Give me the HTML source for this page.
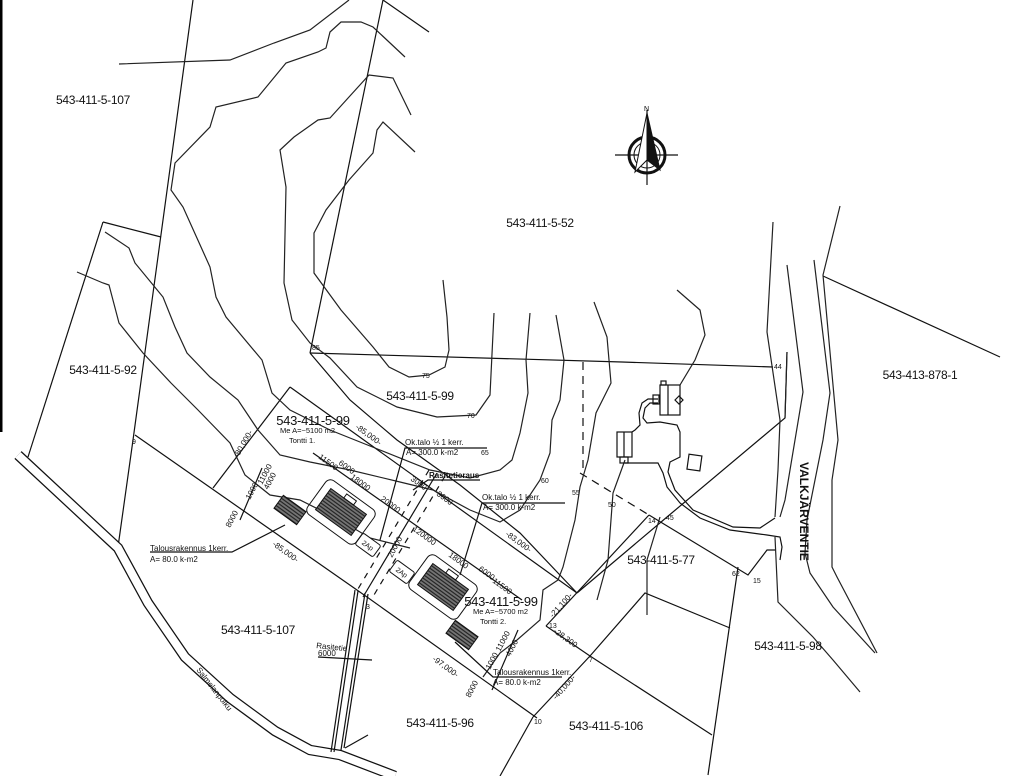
<!DOCTYPE html>
<html><head><meta charset="utf-8"><style>
html,body{margin:0;padding:0;background:#fff;}
svg{display:block;font-family:"Liberation Sans",sans-serif;}
.l{fill:none;stroke:#111;stroke-width:1.2;}
.c{fill:none;stroke:#222;stroke-width:1.2;}
.t{font-size:12px;fill:#111;text-anchor:middle;letter-spacing:-0.3px;}
.s{font-size:7px;fill:#111;}
.d{font-size:8px;fill:#111;}
</style></head><body>
<svg width="1035" height="776" viewBox="0 0 1035 776" xmlns="http://www.w3.org/2000/svg">
<defs>
<pattern id="h" width="3" height="3" patternUnits="userSpaceOnUse"><rect width="3" height="3" fill="#777"/><line x1="0" y1="1.5" x2="3" y2="1.5" stroke="#222" stroke-width="1.2"/></pattern>
</defs>
<rect x="0" y="0" width="2.5" height="432" fill="#000"/>

<polyline class="l" points="193,0 133,440 118,547"/>
<polyline class="l" points="383,0 310,353"/>
<polyline class="l" points="383,0 429,32"/>
<polyline class="l" points="310,353 622,362 773,367"/>
<polyline class="l" points="103,222 161,237"/>
<polyline class="l" points="103,222 28,457"/>
<polyline class="l" points="135,435 367,597 537,718"/>
<polyline class="l" points="290,387 213,488"/>
<polyline class="l" points="290,387 577,593"/>
<polyline class="l" points="310,353 350,400 397,440 460,485 520,533 577,593"/>
<polyline class="l" points="437,473 363,597"/>
<line class="l" x1="445" y1="476" x2="371" y2="600" stroke-dasharray="6,6"/>
<line class="l" x1="429" y1="470" x2="355" y2="594" stroke-dasharray="6,6"/>
<polyline class="l" points="533,717 590,656 645,593 730,628"/>
<polyline class="l" points="533,717 500,776"/>
<polyline class="l" points="738,567 708,775"/>
<polyline class="l" points="546,626 590,656 712,735"/>
<polyline class="l" points="649,515 546,626"/>
<line class="l" x1="580" y1="473" x2="649" y2="515" stroke-dasharray="8,6"/>
<line class="l" x1="583" y1="362" x2="583" y2="473" stroke-dasharray="8,6"/>
<polyline class="l" points="649,515 748,575 767,550 775,550"/>
<polyline class="l" points="787,352 785,418 667,517 577,593"/>
<polyline class="l" points="823,276 1000,357"/>

<path d="M18,455 L118,548 L148,603 L185,657 L230,698 L275,731 L310,750 L340,755 L395,776" fill="none" stroke="#111" stroke-width="10.5"/>
<path d="M18,455 L118,548 L148,603 L185,657 L230,698 L275,731 L310,750 L340,755 L395,776" fill="none" stroke="#fff" stroke-width="8"/>
<path d="M345,748 L368,735" class="l"/>
<line class="l" x1="355" y1="590" x2="331" y2="752"/><line class="l" x1="358" y1="591" x2="334" y2="752"/>
<line class="l" x1="365" y1="593" x2="341" y2="750"/><line class="l" x1="368" y1="594" x2="344" y2="748"/>
<line class="l" x1="318" y1="657" x2="372" y2="660"/>

<polyline class="c" points="119,64 230,60 274,43 310,30 349,0"/>
<polyline class="c" points="405,57 373,27 361,22 341,22 330,32 326,48 318,52 286,63 258,97 216,107 210,127 175,163 171,190 183,207 210,267 216,297 226,317 262,360 272,393 290,410 330,430 380,450 430,470 470,478 500,470 512,460 520,433 528,393 526,360 530,313"/>
<polyline class="c" points="411,115 393,78 369,75 349,97 330,118 318,120 294,137 280,150 286,187 284,283 292,320 310,343 330,358 357,387 397,407 437,417 476,415 490,395 494,313"/>
<polyline class="c" points="415,152 383,122 377,130 373,153 349,180 326,210 314,233 314,273 341,310 373,347 389,367 409,377 429,375 445,367 449,350 447,317 443,280"/>
<polyline class="c" points="77,272 103,283 109,285 119,323 143,353 171,383 198,410 230,443 245,475 270,495 300,500 340,520 370,538 410,548"/>
<polyline class="c" points="105,232 129,248 135,263 163,297 175,327 187,353 210,377 238,400 258,430 280,455 310,462 350,470 400,482 433,490 470,510 500,522 520,510 540,480 550,453 552,420 560,400 564,360 556,315"/>
<polyline class="c" points="594,302 607,337 611,383 596,413 588,460 580,487 575,520 563,567 558,580 543,590 540,620 517,640 500,653 483,677"/>
<polyline class="c" points="625,460 613,493 608,560 597,600"/>
<polyline class="c" points="660,517 647,560 647,615"/>
<polyline class="c" points="677,290 700,310 705,335 695,360 680,385"/>
<polyline class="c" points="773,222 767,332 780,420 778,470 775,517"/>
<polyline class="c" points="787,265 803,392 795,440 785,500 780,517"/>
<polyline class="c" points="814,260 830,393 823,440 815,480 807,520 805,553 810,573 833,607 875,653"/>
<polyline class="c" points="840,206 823,275 838,440 832,480 832,567 837,577 877,653"/>
<polyline class="c" points="775,537 778,602 813,637 833,660 860,692"/>
<polyline class="c" points="787,352 785,418"/>

<polyline class="l" points="658,399 648,399 642,403 639,413 640,425 635,430 632,432"/>
<polyline class="l" points="658,403 650,403 645,408 643,418 647,423 660,422 677,425 680,432 680,457 670,462 668,472 675,490 693,510 733,527 760,528 775,518"/>
<polyline class="l" points="625,463 658,463 663,473 667,487 680,503 700,518 730,530 767,535 780,537 782,547 780,560"/>
<rect class="l" x="660" y="385" width="20" height="30"/><line class="l" x1="668" y1="385" x2="668" y2="415"/>
<rect class="l" x="661" y="381" width="5" height="4"/><rect class="l" x="653" y="395" width="6" height="9"/>
<path class="l" d="M675,400 l4,-4 l4,4 l-4,4z"/>
<rect class="l" x="617" y="432" width="15" height="25"/><line class="l" x1="624" y1="432" x2="624" y2="457"/>
<rect class="l" x="620" y="457" width="8" height="6"/>
<rect class="l" x="688" y="455" width="13" height="15" transform="rotate(8 694 462)"/>

<g transform="translate(341,512) rotate(36)"><rect x="-22" y="-13" width="44" height="26" fill="url(#h)" stroke="#111"/><rect x="-6" y="-18" width="12" height="5" fill="none" stroke="#111"/><rect x="-30" y="-21" width="60" height="42" rx="6" fill="none" stroke="#111"/></g>
<g transform="translate(443,587) rotate(36)"><rect x="-22" y="-13" width="44" height="26" fill="url(#h)" stroke="#111"/><rect x="-6" y="-18" width="12" height="5" fill="none" stroke="#111"/><rect x="-30" y="-21" width="60" height="42" rx="6" fill="none" stroke="#111"/></g>
<g transform="translate(290,510) rotate(36)"><rect x="-14" y="-8" width="28" height="16" fill="url(#h)" stroke="#111"/></g>
<g transform="translate(462,635) rotate(36)"><rect x="-14" y="-8" width="28" height="16" fill="url(#h)" stroke="#111"/></g>
<g transform="translate(368,545) rotate(36)"><rect x="-11" y="-7" width="22" height="14" rx="2" fill="#fff" stroke="#111"/><text class="s" x="0" y="3" text-anchor="middle">2Ap</text></g>
<g transform="translate(402,572) rotate(36)"><rect x="-11" y="-7" width="22" height="14" rx="2" fill="#fff" stroke="#111"/><text class="s" x="0" y="3" text-anchor="middle">2Ap</text></g>

<line class="l" x1="313" y1="453" x2="522" y2="600"/>
<line class="l" x1="240" y1="520" x2="262" y2="468"/>
<line class="l" x1="492" y1="690" x2="518" y2="630"/>
<g class="d">
<text transform="translate(318,458) rotate(36)">11500</text>
<text transform="translate(338,464) rotate(36)">6000</text>
<text transform="translate(350,478) rotate(36)">18000</text>
<text transform="translate(380,500) rotate(36)">20000</text>
<text transform="translate(412,530) rotate(36)">120000</text>
<text transform="translate(448,556) rotate(36)">18000</text>
<text transform="translate(478,570) rotate(36)">6000</text>
<text transform="translate(492,582) rotate(36)">11500</text>
<text transform="translate(410,480) rotate(36)">3000</text>
<text transform="translate(436,495) rotate(36)">3000</text>
<text transform="translate(392,558) rotate(-62)">20000</text>
<text transform="translate(230,528) rotate(-62)">8000</text>
<text transform="translate(250,500) rotate(-62)">1000</text>
<text transform="translate(262,485) rotate(-62)">11000</text>
<text transform="translate(268,490) rotate(-62)">4000</text>
<text transform="translate(470,698) rotate(-62)">8000</text>
<text transform="translate(490,670) rotate(-62)">1000</text>
<text transform="translate(500,652) rotate(-62)">11000</text>
<text transform="translate(510,657) rotate(-62)">4000</text>
<text transform="translate(238,458) rotate(-60)">-80,000-</text>
<text transform="translate(355,428) rotate(36)">-85,000-</text>
<text transform="translate(272,545) rotate(36)">-85,000-</text>
<text transform="translate(505,535) rotate(36)">-83,000-</text>
<text transform="translate(432,660) rotate(36)">-97,000-</text>
<text transform="translate(553,618) rotate(-48)">-21,100-</text>
<text transform="translate(553,632) rotate(36)">-28,300-</text>
<text transform="translate(556,700) rotate(-48)">-40,000-</text>
<text transform="translate(196,670) rotate(52)">Salmelanpolku</text>
</g>

<g class="d">
<polyline class="l" points="380,540 405,448 487,448"/>
<text x="405" y="445">Ok.talo  ½ 1 kerr.</text><text x="406" y="455">A= 300.0 k-m2</text>
<polyline class="l" points="460,575 482,503 565,503"/>
<text x="482" y="500">Ok.talo  ½ 1 kerr.</text><text x="483" y="510">A= 300.0 k-m2</text>
<polyline class="l" points="413,490 428,480 480,480"/>
<text x="429" y="478" font-weight="bold">Rasitetieraus</text>
<polyline class="l" points="285,525 232,552 150,552"/>
<text x="150" y="551">Talousrakennus 1kerr.</text><text x="150" y="562">A= 80.0 k-m2</text>
<polyline class="l" points="455,642 493,677 562,677"/>
<text x="493" y="675">Talousrakennus 1kerr.</text><text x="493" y="685">A= 80.0 k-m2</text>
<text transform="translate(316,648) rotate(6)">Rasitetie</text>
<text x="318" y="656">6000</text>
<text x="280" y="433" font-size="7.5">Me A=~5100 m2</text><text x="289" y="443" font-size="7.5">Tontti 1.</text>
<text x="473" y="614" font-size="7.5">Me A=~5700 m2</text><text x="480" y="624" font-size="7.5">Tontti 2.</text>
</g>

<g class="s">
<text x="312" y="350">85</text><text x="422" y="378">75</text><text x="467" y="418">70</text><text x="481" y="455">65</text>
<text x="541" y="483">60</text><text x="572" y="495">55</text><text x="608" y="507">50</text><text x="774" y="369">44</text>
<text x="648" y="523">14</text><text x="666" y="520">45</text><text x="732" y="576">62</text><text x="753" y="583">15</text>
<text x="549" y="628">13</text><text x="589" y="662">7</text><text x="534" y="724">10</text><text x="132" y="444">9</text><text x="366" y="609">3</text>
</g>

<g class="t">
<text x="93" y="104">543-411-5-107</text>
<text x="540" y="227">543-411-5-52</text>
<text x="103" y="374">543-411-5-92</text>
<text x="420" y="400">543-411-5-99</text>
<text x="313" y="425" font-size="13">543-411-5-99</text>
<text x="920" y="379">543-413-878-1</text>
<text x="661" y="564">543-411-5-77</text>
<text x="501" y="606" font-size="13">543-411-5-99</text>
<text x="258" y="634">543-411-5-107</text>
<text x="788" y="650">543-411-5-98</text>
<text x="440" y="727">543-411-5-96</text>
<text x="606" y="730">543-411-5-106</text>
</g>
<text transform="translate(800,462) rotate(90)" font-size="12" font-weight="bold" fill="#111">VALKJÄRVENTIE</text>

<g>
<circle cx="647" cy="155" r="18" fill="none" stroke="#111" stroke-width="3"/>
<circle cx="647" cy="155" r="13" fill="none" stroke="#111" stroke-width="1"/>
<line x1="647" y1="110" x2="647" y2="185" stroke="#111" stroke-width="1.2"/>
<line x1="615" y1="155" x2="678" y2="155" stroke="#111" stroke-width="1.2"/>
<polygon points="647,113 635,172 647,160" fill="#fff" stroke="#111"/>
<polygon points="647,113 660,170 647,160" fill="#111" stroke="#111"/>
<text x="644" y="111" font-size="7">N</text>
</g>
</svg>
</body></html>
